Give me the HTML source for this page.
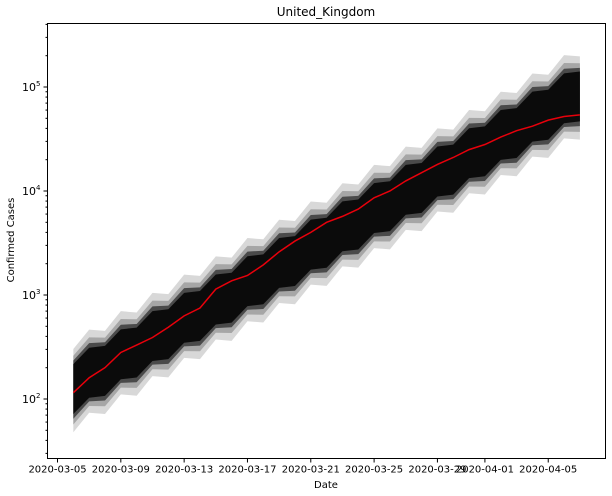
<!DOCTYPE html>
<html><head><meta charset="utf-8">
<style>
body{margin:0;background:#fff;}
svg{display:block;font-family:"DejaVu Sans","Liberation Sans",sans-serif;}
</style></head>
<body>
<svg id="chart" width="612" height="496" viewBox="0 0 612 496">
<rect width="612" height="496" fill="#fff"/>
<text x="326" y="16" text-anchor="middle" font-size="12">United_Kingdom</text>
<g id="bands"></g>
<g id="line"></g>
<g id="axes"></g>
<text x="326" y="488" text-anchor="middle" font-size="10">Date</text>
<text x="14" y="240" text-anchor="middle" font-size="10" transform="rotate(-90 14 240)">Confirmed Cases</text>
</svg>
<script>
const dayIdx = [1,2,3,4,5,6,7,8,9,10,11,12,13,14,15,16,17,18,19,20,21,22,23,24,25,26,27,28,29,30,31,32,33];
const observed = [115,160,200,280,330,390,490,630,750,1140,1370,1540,1950,2600,3300,4000,5000,5700,6700,8600,10000,12500,15000,18000,21000,25000,28000,33000,38000,42000,48000,52000,54000];
const simCenter = [135,165,202,248,303,372,455,557,682,835,1022,1252,1533,1877,2298,2813,3445,4218,5164,6323,7742,9479,11606,14210,17399,21303,26083,31936,39103,47878,58621,71776,87883];
const bandSpreads = [0.40,0.33,0.28,0.24];
const bandZig = [0.05,0.045,0.04,0.035];
const bandColors = ['#d8d8d8','#a6a6a6','#4a4a4a','#0b0b0b'];
const xTickDays = [0,4,8,12,16,20,24,27,31];
const xTickLabels = ['2020-03-05','2020-03-09','2020-03-13','2020-03-17','2020-03-21','2020-03-25','2020-03-29','2020-04-01','2020-04-05'];
const yDecades = [2,3,4,5];

const L=47.5,R=605.5,T=23.5,B=458.5;
const x = d => 57.5 + d*15.83;
const y = lg => 399 - (lg-2)*104;
const yv = v => y(Math.log10(v));
const NS='http://www.w3.org/2000/svg';
function mk(tag, attrs, parent){const e=document.createElementNS(NS,tag);for(const k in attrs)e.setAttribute(k,attrs[k]);parent.appendChild(e);return e;}

const bands=document.getElementById('bands');
bandSpreads.forEach((s,i)=>{
  const z=bandZig[i];
  const up=dayIdx.map((d,j)=>x(d)+','+y(Math.log10(simCenter[j])+s+(j%2?z:-z)));
  const dn=dayIdx.map((d,j)=>x(d)+','+y(Math.log10(simCenter[j])-s+(j%2?z:-z))).reverse();
  const p=mk('polygon',{points:up.concat(dn).join(' '),fill:bandColors[i]},bands);
  
  
});
const line=document.getElementById('line');
const pl=mk('polyline',{points:dayIdx.map((d,j)=>x(d)+','+yv(observed[j])).join(' '),fill:'none',stroke:'#e8000b','stroke-width':1.5},line);



const ax=document.getElementById('axes');
const fr=mk('rect',{x:L,y:T,width:R-L,height:B-T,fill:'none',stroke:'#000','stroke-width':1},ax);


xTickDays.forEach((d,i)=>{
  mk('line',{x1:x(d),x2:x(d),y1:B,y2:B+4,stroke:'#000'},ax);
  const t=mk('text',{x:x(d),y:B+14,'text-anchor':'middle','font-size':10},ax);
  t.textContent=xTickLabels[i];
  
  
});
for(let dec=1;dec<=5;dec++){
  for(let m=1;m<10;m++){
    const lg=dec+Math.log10(m);const yy=y(lg);
    if(yy<T||yy>B)continue;
    mk('line',{x1:L-(m==1?4:2),x2:L,y1:yy,y2:yy,stroke:'#000'},ax);
  }
}
yDecades.forEach(dec=>{
  const t=mk('text',{x:L-7,y:y(dec)+4,'text-anchor':'end','font-size':11},ax);
  t.textContent='10';
  const s=mk('tspan',{dy:-5,'font-size':7},t);s.textContent=String(dec);
  
  
});
</script>
</body></html>
